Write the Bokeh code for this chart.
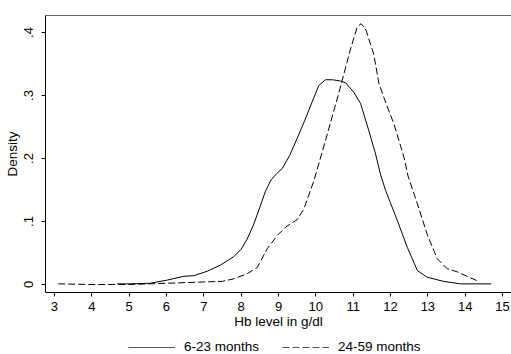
from bokeh.plotting import figure
from bokeh.layouts import column
from bokeh.models import Range1d, FixedTicker, CustomJSTickFormatter, Legend, LegendItem, LinearAxis
from bokeh.embed import file_html
from bokeh.resources import INLINE

# 6-23 months (solid)
hb_young = [4.68, 5.0, 5.57, 6.02, 6.46, 6.73, 7.09, 7.45, 7.8, 8.0, 8.16, 8.34, 8.52, 8.65, 8.8,
            8.95, 9.1, 9.3, 9.5, 9.7, 9.95, 10.08, 10.26, 10.45, 10.66, 10.8, 11.02, 11.2, 11.42,
            11.6, 11.73, 11.87, 12.18, 12.45, 12.72, 12.98, 13.43, 13.88, 14.3, 14.7]
dens_young = [0.001, 0.001, 0.002, 0.007, 0.013, 0.014, 0.021, 0.031, 0.044, 0.056, 0.072, 0.096,
              0.126, 0.148, 0.166, 0.176, 0.184, 0.205, 0.232, 0.26, 0.297, 0.316, 0.325, 0.325,
              0.323, 0.32, 0.305, 0.287, 0.244, 0.207, 0.175, 0.149, 0.102, 0.059, 0.022, 0.0116,
              0.0048, 0.001, 0.001, 0.001]

# 24-59 months (dashed)
hb_old = [3.1, 4.0, 5.0, 5.5, 6.0, 6.5, 7.0, 7.5, 7.8, 8.16, 8.43, 8.7, 8.97, 9.19, 9.5, 9.68,
          9.95, 10.26, 10.62, 10.93, 11.11, 11.21, 11.33, 11.55, 11.69, 11.82, 12.09, 12.36,
          12.47, 12.72, 12.98, 13.25, 13.52, 13.79, 14.05, 14.32]
dens_old = [0.001, 0.0, 0.0, 0.001, 0.002, 0.003, 0.004, 0.005, 0.009, 0.017, 0.027, 0.057, 0.078,
            0.091, 0.103, 0.12, 0.165, 0.229, 0.305, 0.374, 0.409, 0.414, 0.406, 0.366, 0.319,
            0.297, 0.255, 0.202, 0.172, 0.128, 0.080, 0.041, 0.025, 0.020, 0.013, 0.006]

x_ticks = [3, 4, 5, 6, 7, 8, 9, 10, 11, 12, 13, 14, 15]
y_ticks = [0, 0.1, 0.2, 0.3, 0.4]
labels = ["6-23 months", "24-59 months"]

FONT = "Liberation Sans"
DASH = "7 3"

p = figure(width=511, height=334, output_backend="svg", toolbar_location=None,
           x_range=Range1d(2.76, 15.24), y_range=Range1d(-0.0127, 0.427),
           min_border_left=45, min_border_right=0, min_border_top=15, min_border_bottom=42)
p.background_fill_color = "white"
p.border_fill_color = "white"
p.outline_line_color = None
p.grid.visible = False

p.line(hb_young, dens_young, line_color="black", line_width=1)
p.line(hb_old, dens_old, line_color="black", line_width=1, line_dash=DASH)

for ax in (p.xaxis[0], p.yaxis[0]):
    ax.axis_line_color = "black"
    ax.major_tick_line_color = "black"
    ax.minor_tick_line_color = None
    ax.major_tick_in = 0
    ax.major_tick_out = 4
    ax.major_label_text_font = FONT
    ax.major_label_text_font_size = "13px"
    ax.major_label_text_color = "black"
    ax.axis_label_text_font = FONT
    ax.axis_label_text_font_size = "13.5px"
    ax.axis_label_text_font_style = "normal"
    ax.axis_label_text_color = "black"

p.xaxis.ticker = FixedTicker(ticks=x_ticks)
p.xaxis.axis_label = "Hb level in g/dl"
p.xaxis.major_label_standoff = 5
p.xaxis.axis_label_standoff = 0

p.yaxis.ticker = FixedTicker(ticks=y_ticks)
p.yaxis.formatter = CustomJSTickFormatter(
    code="if (Math.abs(tick) < 1e-9) { return '0'; } return tick.toFixed(1).replace(/^0/, '');")
p.yaxis.major_label_orientation = "vertical"
p.yaxis.axis_label = "Density"
p.yaxis.major_label_standoff = 8
p.yaxis.axis_label_standoff = 2

top = LinearAxis(axis_line_color="#666666", major_tick_line_color=None, minor_tick_line_color=None,
                 major_label_text_font_size="0px", ticker=FixedTicker(ticks=[]))
p.add_layout(top, "above")

# legend strip below the chart (its own lines sit outside its visible range)
lg = figure(width=511, height=20, output_backend="svg", toolbar_location=None,
            x_range=Range1d(100, 101), y_range=Range1d(100, 101),
            x_axis_location=None, y_axis_location=None,
            min_border=0, min_border_left=0, min_border_right=0, min_border_top=0, min_border_bottom=0)
lg.grid.visible = False
lg.outline_line_color = None
lg.background_fill_color = "white"
lg.border_fill_color = "white"
k1 = lg.line(hb_young, dens_young, line_color="#555555", line_width=1)
k2 = lg.line(hb_old, dens_old, line_color="#555555", line_width=1, line_dash=DASH)

legend = Legend(items=[LegendItem(label=labels[0], renderers=[k1]),
                       LegendItem(label=labels[1], renderers=[k2])],
                orientation="horizontal", location=(83, 0))
legend.label_text_font = FONT
legend.label_text_font_size = "13.5px"
legend.label_text_color = "black"
legend.glyph_width = 47
legend.glyph_height = 12
legend.label_height = 12
legend.label_standoff = 9
legend.spacing = 23
legend.padding = 1
legend.margin = 0
legend.border_line_color = None
legend.background_fill_alpha = 0
lg.add_layout(legend, "center")

layout = column(p, lg, spacing=0)
open("out.html", "w").write(file_html(layout, INLINE))
